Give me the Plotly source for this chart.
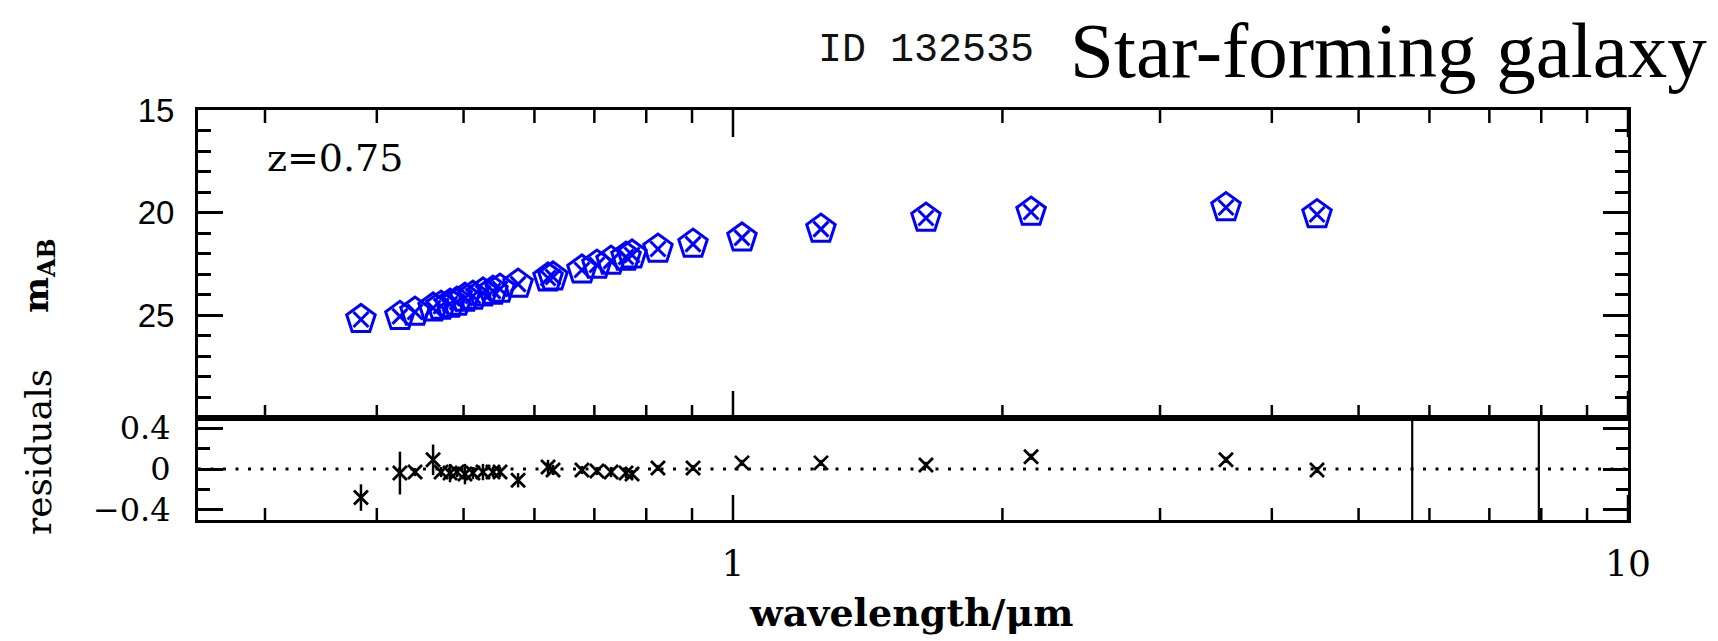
import numpy as np
import plotly.graph_objects as go

# ---------------- data ----------------
wavelength_um = [0.384, 0.4245, 0.4413, 0.4623, 0.4719, 0.4829, 0.4916, 0.5018, 0.5122,
                 0.5256, 0.5393, 0.5492, 0.5753, 0.6214, 0.6294, 0.678, 0.7047, 0.7307,
                 0.7594, 0.7713, 0.8245, 0.9023, 1.0234, 1.254, 1.643, 2.153, 3.555, 4.493]
mag_ab = [25.2, 25.05, 24.84, 24.64, 24.55, 24.45, 24.35, 24.16, 24.06,
          23.91, 23.82, 23.72, 23.48, 23.18, 23.13, 22.79, 22.55, 22.36,
          22.16, 22.06, 21.77, 21.53, 21.23, 20.80, 20.26, 19.97, 19.75, 20.09]
residuals = [-0.28, -0.04, -0.03, 0.09, -0.03, -0.04, -0.03, -0.05, -0.04,
             -0.03, -0.03, -0.03, -0.11, 0.02, -0.01, -0.01, -0.02, -0.03,
             -0.04, -0.05, 0.01, 0.01, 0.06, 0.06, 0.04, 0.12, 0.09, -0.01]
residual_err = [0.13, 0.21, 0.04, 0.15, 0.05, 0.09, 0.05, 0.10, 0.06,
                0.08, 0.05, 0.05, 0.07, 0.07, 0.05, 0.04, 0.04, 0.05,
                0.05, 0.04, 0.03, 0.03, 0.03, 0.03, 0.03, 0.03, 0.03, 0.03]
irac_wavelength_um = [5.74, 7.95]
irac_residual = [0.0, 0.0]
irac_err = [5.0, 5.0]

x_major = [1, 10]
x_major_text = ["1", "10"]
x_minor = [0.3, 0.4, 0.5, 0.6, 0.7, 0.8, 0.9, 2, 3, 4, 5, 6, 7, 8, 9]
x_limits = [0.2525, 10]
mag_limits = [30, 15]
res_limits = [-0.5, 0.5]
mag_major = [15, 20, 25]
mag_minor = [16, 17, 18, 19, 21, 22, 23, 24, 26, 27, 28, 29]
res_major = [-0.4, 0, 0.4]
res_major_text = ["\u22120.4", "0", "0.4"]
res_minor = [-0.2, 0.2]

# ---------------- layout geometry ----------------
W, H = 1718, 641
L, R, T, B = 198, 1628, 110, 520
SPLIT = 418
TOP_H = SPLIT - T
RES_H = B - SPLIT


def px(x):
    return (x - L) / (R - L)


def py(y):
    return (B - y) / (B - T)


SERIF = "DejaVu Serif"
SANS = "Liberation Sans, Arial"
BLUE = "rgb(0,0,255)"

lg = np.log10
xrange = list(lg(x_limits))

fig = go.Figure()

fig.add_trace(go.Scatter(
    x=wavelength_um, y=mag_ab, mode="markers", xaxis="x", yaxis="y",
    marker=dict(symbol="pentagon-open", size=30, color=BLUE, line=dict(width=3, color=BLUE)),
    showlegend=False, hoverinfo="skip"))
fig.add_trace(go.Scatter(
    x=wavelength_um, y=mag_ab, mode="markers", xaxis="x", yaxis="y",
    marker=dict(symbol="x-thin-open", size=15, color=BLUE, line=dict(width=3, color=BLUE)),
    showlegend=False, hoverinfo="skip"))

fig.add_trace(go.Scatter(
    x=wavelength_um, y=residuals, mode="markers", xaxis="x2", yaxis="y2",
    marker=dict(symbol="x-thin-open", size=14, color="black", line=dict(width=2.8, color="black")),
    error_y=dict(type="data", array=residual_err, visible=True, width=0, thickness=2.5, color="black"),
    showlegend=False, hoverinfo="skip"))
fig.add_trace(go.Scatter(
    x=irac_wavelength_um, y=irac_residual, mode="markers", xaxis="x2", yaxis="y2",
    marker=dict(size=1, color="rgba(0,0,0,0)"),
    error_y=dict(type="data", array=irac_err, visible=True, width=0, thickness=2.2, color="black"),
    showlegend=False, hoverinfo="skip"))


# PGPLOT-style inside x tick marks, built from the tick arrays
def tick_segments(vals, y_edge, y_len):
    xs, ys = [], []
    for v in vals:
        xs += [v, v, None]
        ys += [y_edge, y_edge + y_len, None]
    return xs, ys


mag_per_px = (mag_limits[0] - mag_limits[1]) / TOP_H
res_per_px = (res_limits[1] - res_limits[0]) / RES_H
tick_sets = [
    ("x", "y", x_minor, mag_limits[1], 13 * mag_per_px),
    ("x", "y", x_major, mag_limits[1], 27 * mag_per_px),
    ("x", "y", x_minor, mag_limits[0], -13 * mag_per_px),
    ("x", "y", x_major, mag_limits[0], -27 * mag_per_px),
    ("x2", "y2", x_minor, res_limits[0], 12 * res_per_px),
    ("x2", "y2", x_major, res_limits[0], 25 * res_per_px),
]
for xa, ya, vals, edge, ln in tick_sets:
    xs, ys = tick_segments(vals, edge, ln)
    fig.add_trace(go.Scatter(x=xs, y=ys, mode="lines", xaxis=xa, yaxis=ya,
                             line=dict(color="black", width=2.5),
                             showlegend=False, hoverinfo="skip", connectgaps=False))

axis_common = dict(showline=True, linecolor="black", linewidth=3, showgrid=False, zeroline=False,
                   tickcolor="black", tickwidth=2.5)

fig.update_layout(
    width=W, height=H,
    margin=dict(l=L, r=W - R, t=T, b=H - B),
    paper_bgcolor="white", plot_bgcolor="white",
    xaxis=dict(type="log", range=xrange, domain=[0, 1], anchor="y",
               mirror=True, ticks="", showticklabels=False, **axis_common),
    xaxis2=dict(type="log", range=xrange, domain=[0, 1], anchor="y2", matches="x",
                mirror=True, ticks="", tickmode="array", tickvals=x_major, ticktext=x_major_text,
                showticklabels=True, tickfont=dict(family=SERIF, size=36, color="black"),
                ticklabelstandoff=10, **axis_common),
    yaxis=dict(domain=[py(SPLIT), 1], range=mag_limits, anchor="x",
               mirror="allticks", ticks="inside", tickmode="array", tickvals=mag_major, ticklen=25,
               tickfont=dict(family=SANS, size=33, color="black"),
               ticklabelstandoff=14,
               minor=dict(tickmode="array", tickvals=mag_minor, ticks="inside", ticklen=13,
                          tickwidth=2.5, tickcolor="black", showgrid=False),
               **axis_common),
    yaxis2=dict(domain=[0, py(SPLIT)], range=res_limits, anchor="x2",
                mirror="allticks", ticks="inside", tickmode="array", tickvals=res_major,
                ticktext=res_major_text,
                ticklen=25, tickfont=dict(family=SERIF, size=32, color="black"),
                ticklabelstandoff=18,
                minor=dict(tickmode="array", tickvals=res_minor, ticks="inside", ticklen=12,
                           tickwidth=2.5, tickcolor="black", showgrid=False),
                **axis_common),
    shapes=[dict(type="line", xref="x2 domain", yref="y2", x0=0, x1=1, y0=0, y1=0,
                 line=dict(color="black", width=3, dash="3px,9.5px"), layer="below")],
    annotations=[
        dict(text="Star-forming galaxy", xref="paper", yref="paper", x=px(1709), y=py(50),
             xanchor="right", yanchor="middle", showarrow=False,
             font=dict(family="Liberation Serif, Times New Roman", size=79, color="black")),
        dict(text="ID 132535", xref="paper", yref="paper", x=px(816), y=py(50),
             xanchor="left", yanchor="middle", showarrow=False,
             font=dict(family="Liberation Mono, Courier New", size=40, color="#111")),
        dict(text="z=0.75", xref="paper", yref="paper", x=px(265), y=py(158),
             xanchor="left", yanchor="middle", showarrow=False,
             font=dict(family=SERIF, size=38, color="black")),
        dict(text="<b>m</b><sub><b>AB</b></sub>", xref="paper", yref="paper", x=px(38), y=py(276),
             xanchor="center", yanchor="middle", showarrow=False, textangle=-90,
             font=dict(family=SERIF, size=34, color="black")),
        dict(text="residuals", xref="paper", yref="paper", x=px(38), y=py(452),
             xanchor="center", yanchor="middle", showarrow=False, textangle=-90,
             font=dict(family=SERIF, size=36, color="black")),
        dict(text="<b>wavelength/\u03bcm</b>", xref="paper", yref="paper", x=px(911), y=py(612),
             xanchor="center", yanchor="middle", showarrow=False,
             font=dict(family=SERIF, size=38, color="black")),
    ],
)

fig.write_html("out.html")
